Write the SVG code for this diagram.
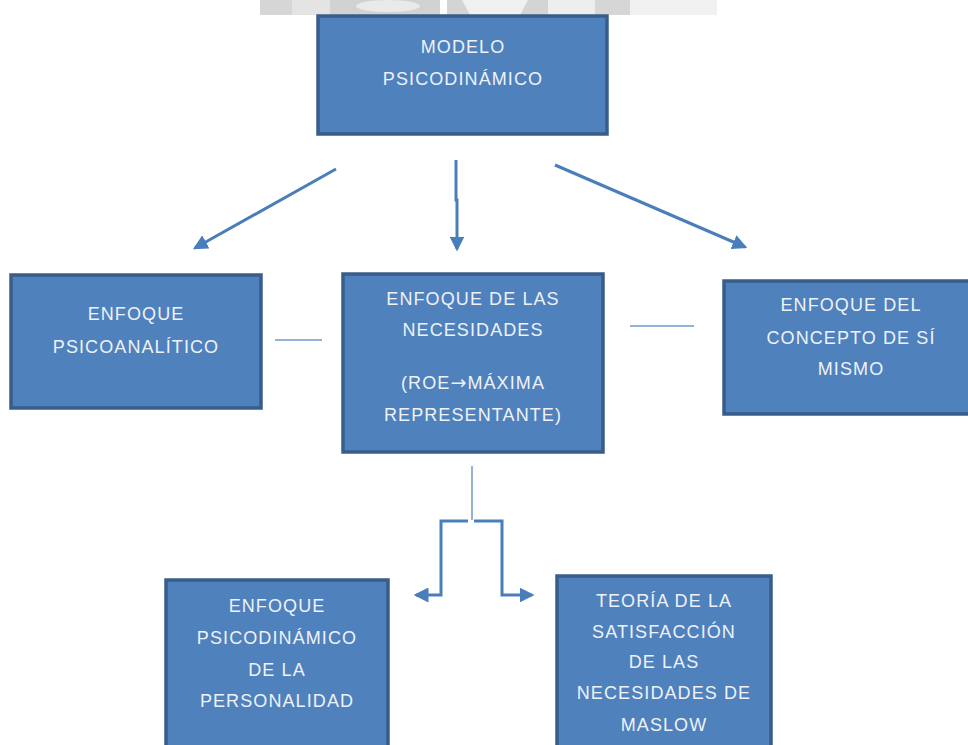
<svg xmlns="http://www.w3.org/2000/svg" width="968" height="745" viewBox="0 0 968 745">
<defs>
<style>
.box{fill:#4f81bd;stroke:#385d8a;stroke-width:3.5}
.t{font-family:"Liberation Sans",Arial,sans-serif;font-size:18px;fill:#eef2f8;text-anchor:middle;letter-spacing:1.1px}
.arr{stroke:#4a7ebb;stroke-width:3;fill:none}
.thin{stroke:#6f97cc;stroke-width:1.5;fill:none}
</style>
<marker id="ah" viewBox="0 0 12 12" refX="10" refY="6" markerWidth="15" markerHeight="15" markerUnits="userSpaceOnUse" orient="auto">
<path d="M0,0 L12,6 L0,12 z" fill="#4a7ebb"/>
</marker>
</defs>
<rect width="968" height="745" fill="#ffffff"/>
<g id="watermark">
<rect x="260" y="0" width="32" height="15" fill="#d6d6d6"/>
<rect x="292" y="0" width="38" height="15" fill="#e4e4e4"/>
<rect x="330" y="0" width="110" height="15" fill="#d2d2d2"/>
<ellipse cx="388" cy="6" rx="32" ry="6" fill="#eaeaea"/>
<rect x="447" y="0" width="101" height="15" fill="#d4d4d4"/>
<path d="M462,0 L528,0 L520,15 L470,15 z" fill="#f0f0f0"/>
<rect x="548" y="0" width="47" height="15" fill="#eeeeee"/>
<rect x="595" y="0" width="35" height="15" fill="#d6d6d6"/>
<rect x="630" y="0" width="87" height="15" fill="#f1f1f1"/>
</g>
<g id="connectors">
<line class="arr" x1="336" y1="169" x2="195" y2="248" marker-end="url(#ah)"/>
<polyline class="arr" points="456,160 456,200 457,200 457,249" stroke-width="3.5" marker-end="url(#ah)"/>
<line class="arr" x1="555" y1="165" x2="745" y2="247" marker-end="url(#ah)"/>
<line class="thin" x1="275" y1="340" x2="322" y2="340"/>
<line class="thin" x1="630" y1="326" x2="694" y2="326"/>
<line class="thin" x1="472" y1="466" x2="472" y2="520"/>
<polyline class="arr" points="468,521 441,521 441,595 416,595" marker-end="url(#ah)"/>
<polyline class="arr" points="474,521 502,521 502,595 532,595" marker-end="url(#ah)"/>
</g>
<g id="modelo">
<rect class="box" x="318" y="16" width="289" height="118"/>
<text class="t" x="463" y="53">MODELO</text>
<text class="t" x="463" y="85">PSICODINÁMICO</text>
</g>
<g id="psicoanalitico">
<rect class="box" x="11" y="275" width="250" height="133"/>
<text class="t" x="136" y="320">ENFOQUE</text>
<text class="t" x="136" y="353">PSICOANALÍTICO</text>
</g>
<g id="necesidades">
<rect class="box" x="343" y="274" width="260" height="178"/>
<text class="t" x="473" y="305">ENFOQUE DE LAS</text>
<text class="t" x="473" y="336">NECESIDADES</text>
<text class="t" x="473" y="389">(ROE<tspan font-family="'DejaVu Sans',sans-serif" font-size="19px">→</tspan>MÁXIMA</text>
<text class="t" x="473" y="421">REPRESENTANTE)</text>
</g>
<g id="concepto">
<rect class="box" x="724" y="281" width="250" height="133"/>
<text class="t" x="851" y="311">ENFOQUE DEL</text>
<text class="t" x="851" y="344">CONCEPTO DE SÍ</text>
<text class="t" x="851" y="375">MISMO</text>
</g>
<g id="personalidad">
<rect class="box" x="166" y="580" width="222" height="175"/>
<text class="t" x="277" y="612">ENFOQUE</text>
<text class="t" x="277" y="644">PSICODINÁMICO</text>
<text class="t" x="277" y="676">DE LA</text>
<text class="t" x="277" y="707">PERSONALIDAD</text>
</g>
<g id="maslow">
<rect class="box" x="557" y="576" width="214" height="179"/>
<text class="t" x="664" y="607">TEORÍA DE LA</text>
<text class="t" x="664" y="638">SATISFACCIÓN</text>
<text class="t" x="664" y="668">DE LAS</text>
<text class="t" x="664" y="699">NECESIDADES DE</text>
<text class="t" x="664" y="731">MASLOW</text>
</g>
</svg>
